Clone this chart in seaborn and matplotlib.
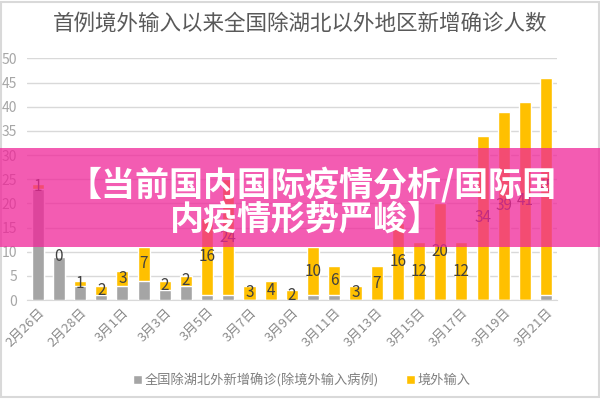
import matplotlib
matplotlib.use('Agg')
import matplotlib.pyplot as plt
import seaborn as sns
import pandas as pd
from matplotlib.patches import Patch, Rectangle

# data
dates = ['2月26日', '2月27日', '2月28日', '2月29日', '3月1日', '3月2日', '3月3日',
         '3月4日', '3月5日', '3月6日', '3月7日', '3月8日', '3月9日', '3月10日',
         '3月11日', '3月12日', '3月13日', '3月14日', '3月15日', '3月16日',
         '3月17日', '3月18日', '3月19日', '3月20日', '3月21日']
local_cases = [23, 9, 3, 1, 3, 4, 2, 3, 1, 1, 0, 0, 0, 1, 1, 0, 0, 0, 0, 0, 0, 0, 0, 0, 1]
imported_cases = [1, 0, 1, 2, 3, 7, 2, 2, 16, 24, 3, 4, 2, 10, 6, 3, 7, 16, 12, 20,
                  12, 34, 39, 41, 45]

title = '首例境外输入以来全国除湖北以外地区新增确诊人数'
local_name = '全国除湖北外新增确诊(除境外输入病例)'
imported_name = '境外输入'
banner_lines = ['【当前国内国际疫情分析/国际国', '内疫情形势严峻】']

df = pd.DataFrame({'date': dates, 'local': local_cases, 'imported': imported_cases})
df['total'] = df['local'] + df['imported']

sns.set_style('white')
plt.rcParams['font.family'] = ['Noto Sans CJK SC', 'DejaVu Sans']
plt.rcParams['axes.unicode_minus'] = False

gray = '#A5A5A5'
yellow = '#FFC000'

fig = plt.figure(figsize=(6, 4), dpi=100)
ax = fig.add_axes([0.045, 0.25, 0.883, 0.604])

# stacked bars: total in yellow, local part drawn over it in gray
sns.barplot(data=df, x='date', y='total', color=yellow, saturation=1, width=0.57, ax=ax, zorder=2)
sns.barplot(data=df, x='date', y='local', color=gray, saturation=1, width=0.57, ax=ax, zorder=3)

for i, row in df.iterrows():
    ax.text(i, row['local'] + row['imported'] / 2, str(row['imported']),
            ha='center', va='center', fontsize=11, color='#404040', zorder=4)

ax.set_xlim(-0.5, len(dates) - 0.5)
ax.set_ylim(0, 50)
ax.set_yticks(range(0, 51, 5))
ax.yaxis.grid(True, color='#D9D9D9', linewidth=1)
ax.set_axisbelow(True)
ax.set_xlabel('')
ax.set_ylabel('')
ax.set_xticks(range(0, len(dates), 2))
ax.set_xticklabels(dates[::2], rotation=45, ha='right', rotation_mode='anchor')
ax.tick_params(axis='x', length=0, pad=4, labelsize=9.5, labelcolor='#8C8C8C')
ax.tick_params(axis='y', length=0, pad=7, labelsize=10, labelcolor='#A6A6A6')
for s in ['top', 'right', 'left']:
    ax.spines[s].set_visible(False)
ax.spines['bottom'].set_color('#D9D9D9')

fig.text(0.5, 0.94, title, ha='center', va='center', fontsize=15.5, color='#595959',
         fontweight='medium')

handles = [Patch(facecolor=gray, label=local_name), Patch(facecolor=yellow, label=imported_name)]
fig.legend(handles=handles, loc='center', bbox_to_anchor=(0.503, 0.05), ncol=2, frameon=False,
           fontsize=9.5, labelcolor='#7F7F7F', handlelength=0.7, handleheight=0.7,
           handletextpad=0.2, columnspacing=2.0)

# frame around the picture
fig.patches.append(Rectangle((0.002, 0.008), 0.996, 0.988, transform=fig.transFigure,
                             fill=False, edgecolor='#D9D9D9', linewidth=1.5))

# pink banner laid over the chart
fig.patches.append(Rectangle((0, 0.3825), 1, 0.2475, transform=fig.transFigure,
                             facecolor=(0.94, 0.145, 0.6), alpha=0.75, edgecolor='none', zorder=10))
fig.text(0.52, 1 - 185 / 400, banner_lines[0], ha='center', va='center', fontsize=24.5,
         fontweight='heavy', color='white', zorder=11)
fig.text(0.51, 1 - 219 / 400, banner_lines[1], ha='center', va='center', fontsize=24.5,
         fontweight='heavy', color='white', zorder=11)

fig.savefig('out.png', dpi=100)
